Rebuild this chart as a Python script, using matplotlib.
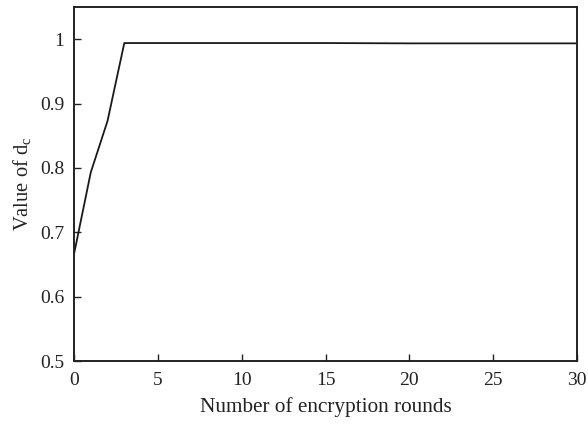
import matplotlib
matplotlib.use("Agg")
import matplotlib.pyplot as plt

rounds = [0, 1, 2, 3, 5, 10, 15, 20, 25, 30]
dc = [0.666, 0.793, 0.873, 0.994, 0.994, 0.994, 0.994, 0.9935, 0.9935, 0.9935]
yticks = [0.5, 0.6, 0.7, 0.8, 0.9, 1.0]
ytick_labels = ["0.5", "0.6", "0.7", "0.8", "0.9", "1"]
xticks = [0, 5, 10, 15, 20, 25, 30]

plt.rcParams['font.family'] = ['Liberation Serif', 'DejaVu Serif']
plt.rcParams['mathtext.fontset'] = 'custom'
plt.rcParams['mathtext.rm'] = 'Liberation Serif'
plt.rcParams['mathtext.it'] = 'Liberation Serif:italic'

fig = plt.figure(figsize=(5.88, 4.28), dpi=100)
ax = fig.add_axes([74/588, 1-361/428, (577-74)/588, (361-7)/428])
ax.plot(rounds, dc, color='#1a1a1a', linewidth=1.3)
ax.set_xlim(0, 30)
ax.set_ylim(0.5, 1.05)
ax.set_xticks(xticks)
ax.set_yticks(yticks)
ax.set_yticklabels(ytick_labels)
ax.tick_params(axis='both', direction='in', length=5, width=1.0, labelsize=14, colors='#222222')
ax.tick_params(axis='y', pad=7)
ax.tick_params(axis='x', pad=8)
for s in ax.spines.values():
    s.set_linewidth(1.4)
    s.set_color('#222222')
ax.set_xlabel('Number of encryption rounds', fontsize=15.3, color='#222222', labelpad=6)
ax.set_ylabel(r'Value of d$_{\mathrm{c}}$', fontsize=14.8, color='#222222', labelpad=5)
fig.savefig('out.png', dpi=100)
